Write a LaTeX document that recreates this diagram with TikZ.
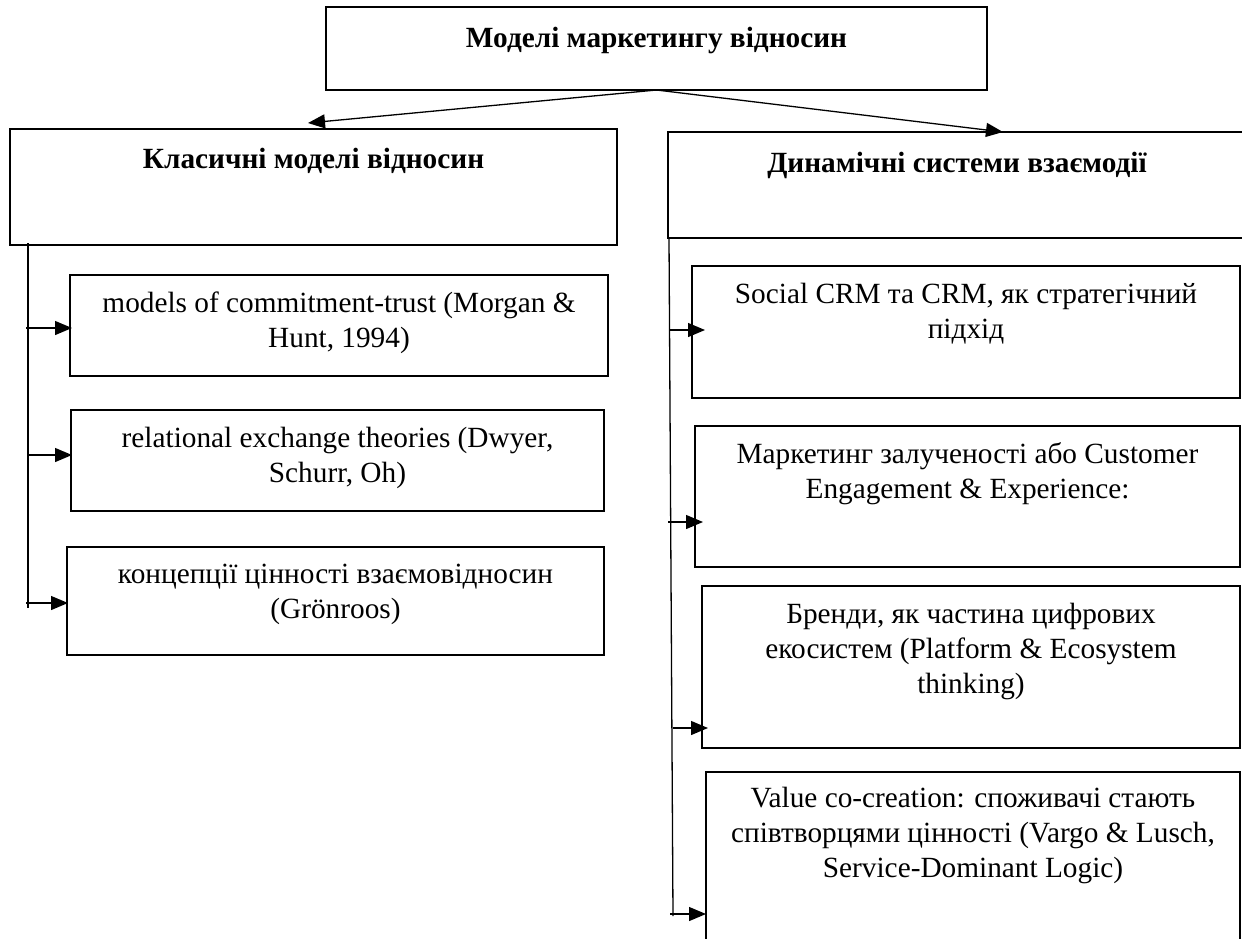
\documentclass[tikz,border=0pt]{standalone}
\usepackage{fontspec}
\setmainfont{Liberation Serif}
\usetikzlibrary{arrows.meta,calc}
\begin{document}
\begin{tikzpicture}[x=1pt,y=-1pt,
  box/.style={draw, line width=1.3pt, rectangle, inner sep=0pt, outer sep=0pt, anchor=north west},
  txt/.style={font=\fontsize{29.3}{35}\selectfont, align=center, inner sep=0pt, anchor=north},
  btxt/.style={txt, font=\fontsize{29.3}{35}\selectfont\bfseries},
  conn/.style={line width=1.3pt},
  arr/.style={conn, -{Triangle[length=17pt,width=14pt]}}]
\useasboundingbox (0,0) rectangle (1242,938);

% top level
\node[box, minimum width=661pt, minimum height=83pt] (T) at (326,7) {};
\node[btxt] (Tt) at (656.5,22.5) {\strut Моделі маркетингу відносин};

% second level
\node[box, minimum width=607pt, minimum height=116pt] (L) at (10,129) {};
\node[btxt] (Lt) at (313.5,143.5) {\strut Класичні моделі відносин};
\node[box, minimum width=580pt, minimum height=106pt] (R) at (668,132) {};
\node[btxt] (Rt) at (957,147.5) {\strut Динамічні системи взаємодії};

% left column
\node[box, minimum width=538pt, minimum height=101pt] (B1) at (70,275) {};
\node[txt] (B1t) at (339,287.5) {\strut models of commitment-trust (Morgan \&\\Hunt, 1994)};
\node[box, minimum width=533pt, minimum height=101pt] (B2) at (71,410) {};
\node[txt] (B2t) at (337.5,422.5) {\strut relational exchange theories (Dwyer,\\Schurr, Oh)};
\node[box, minimum width=537pt, minimum height=108pt] (B3) at (67,547) {};
\node[txt] (B3t) at (335.5,558.5) {\strut концепції цінності взаємовідносин\\(Grönroos)};

% right column
\node[box, minimum width=548pt, minimum height=132pt] (S1) at (692,266) {};
\node[txt] (S1t) at (966,278.5) {\strut Social CRM та CRM, як стратегічний\\підхід};
\node[box, minimum width=545pt, minimum height=141pt] (S2) at (695,426) {};
\node[txt] (S2t) at (967.5,438.5) {\strut Маркетинг залученості або Customer\\Engagement \& Experience:};
\node[box, minimum width=538pt, minimum height=162pt] (S3) at (702,586) {};
\node[txt] (S3t) at (971,598.5) {\strut Бренди, як частина цифрових\\екосистем (Platform \& Ecosystem\\thinking)};
\node[box, minimum width=534pt, minimum height=190pt] (S4) at (706,772) {};
\node[txt] (S4t) at (973,782.5) {\strut Value co-creation: споживачі стають\\співтворцями цінності (Vargo \& Lusch,\\Service-Dominant Logic)};

% connectors from top
\draw[arr] (T.south) -- ($(L.north west)+(298,-6)$);
\draw[arr] (T.south) -- ($(R.north west)+(335,0)$);

% left bus
\coordinate (lt) at (28,243);
\coordinate (lb) at (28,608);
\draw[conn] (lt) -- (lb);
\coordinate (la1) at (26,328);
\coordinate (la2) at (29,455);
\coordinate (la3) at (26,603);
\draw[arr] (la1) -- ($(la1 -| B1.west)+(2,0)$);
\draw[arr] (la2) -- ($(la2 -| B2.west)+(1,0)$);
\draw[arr] (la3) -- ($(la3 -| B3.west)+(1,0)$);

% right bus
\coordinate (rt) at (669,238);
\coordinate (rb) at (673,916);
\draw[conn] (rt) -- (rb);
\coordinate (ra1) at (669,330);
\coordinate (ra2) at (668,522);
\coordinate (ra3) at (673,728);
\coordinate (ra4) at (670,914);
\draw[arr] (ra1) -- ($(ra1 -| S1.west)+(13,0)$);
\draw[arr] (ra2) -- ($(ra2 -| S2.west)+(8,0)$);
\draw[arr] (ra3) -- ($(ra3 -| S3.west)+(6,0)$);
\draw[arr] (ra4) -- (ra4 -| S4.west);
\end{tikzpicture}
\end{document}
